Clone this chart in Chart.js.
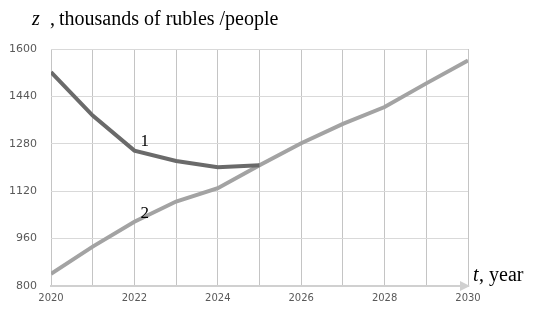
<!DOCTYPE html>
<html>
<head>
<meta charset="utf-8">
<script src="https://cdn.jsdelivr.net/npm/chart.js@4"></script>
<style>
  html, body { margin: 0; padding: 0; background: #fff; }
  #wrap { width: 534px; height: 309px; position: relative; }
</style>
</head>
<body>
<div id="wrap"><canvas id="chart"></canvas></div>
<script>
// years on the x axis
const years = [2020, 2021, 2022, 2023, 2024, 2025, 2026, 2027, 2028, 2029, 2030];
// curve 1 (ends in 2025)
const curve1 = [1522, 1375, 1257, 1222, 1201, 1208];
// curve 2
const curve2 = [841, 933, 1017, 1085, 1130, 1208, 1282, 1347, 1404, 1484, 1561];
const yTicks = [800, 960, 1120, 1280, 1440, 1600];

// Title, axis label, curve numbers and arrow
const notes = {
    id: 'notes',
    afterDraw(chart) {
        const ctx = chart.ctx;
        const xs = chart.scales.x, ys = chart.scales.y;
        ctx.save();
        // arrow on x axis
        const yb = ys.getPixelForValue(800);
        ctx.fillStyle = '#d0d0d0';
        ctx.beginPath();
        ctx.moveTo(xs.right - 8, yb - 5);
        ctx.lineTo(xs.right + 2, yb);
        ctx.lineTo(xs.right - 8, yb + 5);
        ctx.closePath();
        ctx.fill();

        ctx.fillStyle = '#000';
        ctx.textBaseline = 'alphabetic';
        ctx.font = 'italic 20px "Liberation Serif"';
        ctx.fillText('z', 32, 25);
        ctx.font = '20px "Liberation Serif"';
        ctx.fillText(',', 50, 25);
        ctx.fillText('thousands of rubles /people', 59, 25);

        ctx.font = 'italic 20px "Liberation Serif"';
        ctx.fillText('t', 473, 281);
        ctx.font = '20px "Liberation Serif"';
        ctx.fillText(', year', 479, 281);

        ctx.font = '17px "Liberation Serif"';
        ctx.fillText('1', xs.getPixelForValue(2022) + 6, 146);
        ctx.fillText('2', xs.getPixelForValue(2022) + 6, 218);
        ctx.restore();
    }
};

new Chart(document.getElementById('chart').getContext('2d'), {
    type: 'line',
    data: {
        datasets: [{
            label: '1',
            data: curve1.map((v, i) => ({ x: years[i], y: v })),
            borderColor: '#6a6a6a',
            borderWidth: 4,
            pointRadius: 0,
            tension: 0
        }, {
            label: '2',
            data: curve2.map((v, i) => ({ x: years[i], y: v })),
            borderColor: '#a3a3a3',
            borderWidth: 4,
            pointRadius: 0,
            tension: 0
        }]
    },
    options: {
        responsive: true,
        maintainAspectRatio: false,
        animation: false,
        layout: { padding: { top: 49, right: 66, left: 0, bottom: 0 } },
        plugins: {
            legend: { display: false },
            tooltip: { enabled: false }
        },
        scales: {
            x: {
                type: 'linear',
                min: 2020,
                max: 2030,
                grid: { color: '#c4c4c4', drawTicks: false },
                border: { color: '#d0d0d0', width: 2 },
                afterFit: s => { s.height = 23; },
                ticks: {
                    stepSize: 1,
                    padding: 6,
                    maxRotation: 0,
                    autoSkip: false,
                    color: '#595959',
                    font: { family: 'DejaVu Sans', size: 10 },
                    callback: v => (v % 2 === 0 ? String(v) : '')
                }
            },
            y: {
                min: 800,
                max: 1600,
                afterBuildTicks: s => { s.ticks = yTicks.map(v => ({ value: v })); },
                afterFit: s => { s.width = 51; },
                grid: { color: '#d9d9d9', drawTicks: false },
                border: { display: false },
                ticks: {
                    padding: 14,
                    color: '#595959',
                    font: { family: 'DejaVu Sans', size: 11 },
                    callback: v => String(v)
                }
            }
        }
    },
    plugins: [notes]
});
</script>
</body>
</html>
